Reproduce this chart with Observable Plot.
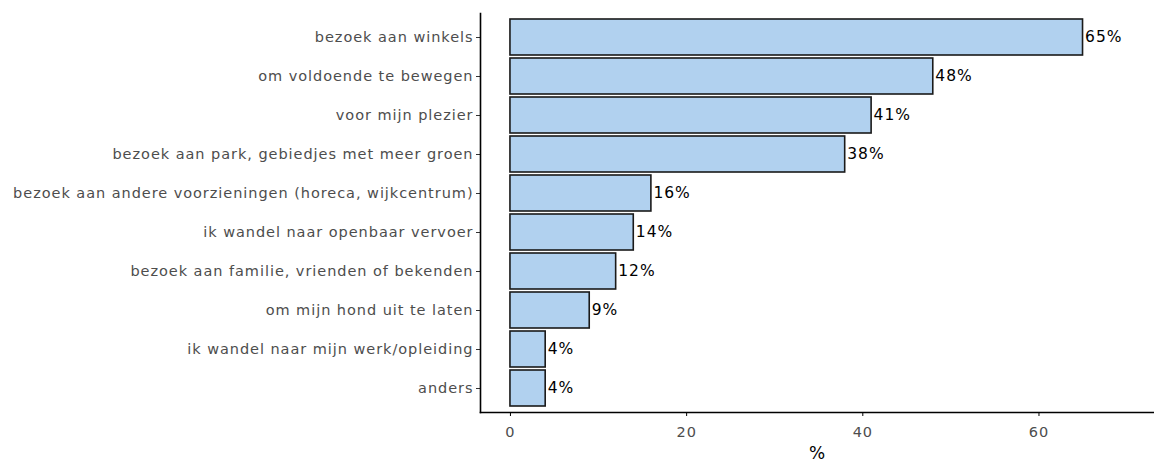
<!DOCTYPE html>
<html>
<head>
<meta charset="utf-8">
<script src="https://cdn.jsdelivr.net/npm/d3@7"></script>
<script src="https://cdn.jsdelivr.net/npm/@observablehq/plot@0.6"></script>
<style>
  html, body { margin: 0; padding: 0; background: #fff; }
  #chart svg g[aria-label="y-axis tick label"] text,
  #chart svg g[aria-label="x-axis tick label"] text { fill: #4d4d4d; letter-spacing: 0.95px; }
  #chart svg g[aria-label="text"] text { letter-spacing: 1px; }
</style>
</head>
<body>
<div id="chart"></div>
<script>
const categories = [
  "bezoek aan winkels",
  "om voldoende te bewegen",
  "voor mijn plezier",
  "bezoek aan park, gebiedjes met meer groen",
  "bezoek aan andere voorzieningen (horeca, wijkcentrum)",
  "ik wandel naar openbaar vervoer",
  "bezoek aan familie, vrienden of bekenden",
  "om mijn hond uit te laten",
  "ik wandel naar mijn werk/opleiding",
  "anders"
];
const values = [65, 48, 41, 38, 16, 14, 12, 9, 4, 4];
const xTicks = [0, 20, 40, 60];

const data = categories.map((c, i) => ({cat: c, value: values[i]}));
const xMin = -3.4, xMax = 73;

const chart = Plot.plot({
  width: 1154,
  height: 465,
  marginLeft: 480,
  marginRight: 1,
  marginTop: 13,
  marginBottom: 53,
  style: {fontFamily: "DejaVu Sans", fontSize: "14.5px", background: "#fff"},
  x: {domain: [xMin, xMax], label: null},
  y: {domain: categories, paddingInner: 0.08, paddingOuter: 0.14, label: null},
  marks: [
    Plot.barX(data, {x1: 0, x2: "value", y: "cat", fill: "#b1d1ef", stroke: "#1a1a1a", strokeWidth: 1.6}),
    Plot.text(data, {x: "value", y: "cat", text: d => d.value + "%", textAnchor: "start", dx: 2, fill: "#000", fontSize: 15.5}),
    Plot.axisY({tickSize: 4, tickPadding: 3, fontSize: 14.5, stroke: "#333"}),
    Plot.axisX({ticks: xTicks, tickSize: 4, tickPadding: 10, fontSize: 14.5, label: "%", labelAnchor: "center", labelArrow: "none", labelOffset: 46}),
    Plot.frame({anchor: "left", stroke: "#000", strokeWidth: 1.6}),
    Plot.frame({anchor: "bottom", stroke: "#000", strokeWidth: 1.6})
  ]
});
chart.querySelectorAll('g[aria-label="x-axis label"] text').forEach(t => {
  t.setAttribute("font-size", "17px");
  t.setAttribute("fill", "#000");
});
document.getElementById("chart").appendChild(chart);
</script>
</body>
</html>
